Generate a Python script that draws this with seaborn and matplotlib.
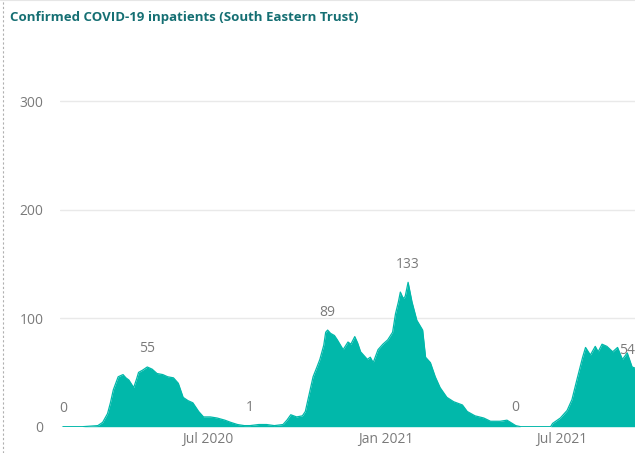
import pandas as pd
import numpy as np
import matplotlib.pyplot as plt
import matplotlib.dates as mdates
import seaborn as sns

# valores (datas aproximadas)
dates = [
    "2020-02-03", "2020-02-23", "2020-03-10", "2020-03-15", "2020-03-20", "2020-03-23",
    "2020-03-26", "2020-03-31", "2020-04-05", "2020-04-08", "2020-04-11", "2020-04-16",
    "2020-04-19", "2020-04-21", "2020-04-25", "2020-04-30", "2020-05-05", "2020-05-10",
    "2020-05-16", "2020-05-21", "2020-05-27", "2020-06-01", "2020-06-06", "2020-06-11",
    "2020-06-16", "2020-06-22", "2020-06-27", "2020-07-04", "2020-07-11", "2020-07-19",
    "2020-07-25", "2020-08-01", "2020-08-08", "2020-08-14", "2020-08-23", "2020-08-31",
    "2020-09-08", "2020-09-17", "2020-09-21", "2020-09-25", "2020-10-01", "2020-10-07",
    "2020-10-10", "2020-10-12", "2020-10-15", "2020-10-18", "2020-10-22", "2020-10-25",
    "2020-10-29", "2020-10-31", "2020-11-02", "2020-11-05", "2020-11-09", "2020-11-12",
    "2020-11-18", "2020-11-23", "2020-11-26", "2020-11-30", "2020-12-03", "2020-12-06",
    "2020-12-13", "2020-12-16", "2020-12-19", "2020-12-24", "2020-12-29", "2021-01-03",
    "2021-01-08", "2021-01-11", "2021-01-14", "2021-01-16", "2021-01-19", "2021-01-21",
    "2021-01-24", "2021-01-28", "2021-02-02", "2021-02-08", "2021-02-11", "2021-02-16",
    "2021-02-21", "2021-02-26", "2021-03-05", "2021-03-12", "2021-03-21", "2021-03-26",
    "2021-04-03", "2021-04-12", "2021-04-19", "2021-04-29", "2021-05-06", "2021-05-15",
    "2021-05-20", "2021-05-30", "2021-06-10", "2021-06-20", "2021-06-22", "2021-06-30",
    "2021-07-07", "2021-07-12", "2021-07-17", "2021-07-23", "2021-07-26", "2021-07-31",
    "2021-08-05", "2021-08-08", "2021-08-12", "2021-08-17", "2021-08-23", "2021-08-28",
    "2021-09-02", "2021-09-07", "2021-09-12", "2021-09-15",
]
patients = [
    0, 0, 1, 4, 12, 22,
    34, 46, 48, 45, 43, 36,
    44, 50, 52, 55, 53, 49,
    48, 46, 45, 40, 27, 24,
    22, 14, 9, 9, 8, 6,
    4, 2, 1, 1, 2, 2,
    1, 2, 6, 11, 9, 10,
    14, 22, 34, 46, 55, 62,
    75, 87, 89, 86, 84, 80,
    71, 78, 76, 83, 77, 69,
    62, 64, 59, 71, 76, 80,
    87, 104, 115, 124, 118, 120,
    133, 115, 98, 89, 64, 59,
    46, 36, 27, 23, 20, 14,
    10, 8, 5, 5, 6, 1,
    0, 0, 0, 0, 3, 8,
    15, 25, 43, 64, 73, 66,
    74, 69, 76, 74, 69, 73,
    62, 68, 55, 54,
]

# rótulos de dados mostrados no gráfico
label_dates = ["2020-02-03", "2020-04-30", "2020-08-14", "2020-11-02",
               "2021-01-24", "2021-05-15", "2021-09-15"]
label_texts = ["0", "55", "1", "89", "133", "0", "54"]

y_ticks = [0, 100, 200, 300]
x_ticks = ["2020-07-01", "2021-01-01", "2021-07-01"]
x_tick_labels = ["Jul 2020", "Jan 2021", "Jul 2021"]

TEAL = "#01B8AA"
GREY = "#7a7a7a"

df = pd.DataFrame({"date": pd.to_datetime(dates), "patients": patients})

sns.set_theme(style="white")
plt.rcParams["font.family"] = ["Open Sans", "DejaVu Sans"]

fig = plt.figure(figsize=(6.35, 4.53), dpi=100)
ax = fig.add_axes([60 / 635, 26.3 / 453, 1 - 60 / 635, (426.7 - 57.6) / 453])

ax.fill_between(df["date"], 0, df["patients"], color=TEAL, linewidth=0, zorder=2)
sns.lineplot(data=df, x="date", y="patients", color=TEAL, linewidth=0.9, ax=ax, zorder=3)

for d, t in zip(label_dates, label_texts):
    dt = pd.to_datetime(d)
    val = df.loc[df["date"] == dt, "patients"].iloc[0]
    ha = "center"
    dx = 0
    if d == label_dates[0]:
        dx = 0
    if d == label_dates[-1]:
        ha = "right"
    ax.annotate(t, (dt, val), xytext=(dx, 13), textcoords="offset points",
                ha=ha, va="center", fontsize=10, color=GREY, zorder=4)

ax.set_xlim(pd.Timestamp("2020-01-31"), pd.Timestamp("2021-09-15"))
ax.set_ylim(0, 340)
ax.set_yticks(y_ticks)
ax.set_xticks(pd.to_datetime(x_ticks))
ax.set_xticklabels(x_tick_labels)
ax.tick_params(axis="both", length=0, labelsize=10, labelcolor=GREY)
ax.tick_params(axis="y", pad=12)
ax.tick_params(axis="x", pad=4)
ax.set_xlabel("")
ax.set_ylabel("")
ax.grid(axis="y", color="#e9e9e9", linewidth=1)
ax.set_axisbelow(True)
for s in ax.spines.values():
    s.set_visible(False)

fig.text(10 / 635, 1 - 18 / 453, "Confirmed COVID-19 inpatients (South Eastern Trust)",
         fontsize=9.5, fontweight="bold", color="#156f73", ha="left", va="center")

# borda pontilhada à esquerda e linha fina no topo
fig.add_artist(plt.Line2D([3 / 635, 3 / 635], [0, 1], transform=fig.transFigure,
                          color="#b0b0b0", linewidth=0.8, linestyle=(0, (2, 2))))
fig.add_artist(plt.Line2D([0, 1], [0.999, 0.999], transform=fig.transFigure,
                          color="#e6e6e6", linewidth=0.8))

fig.savefig("out.png", dpi=100)
